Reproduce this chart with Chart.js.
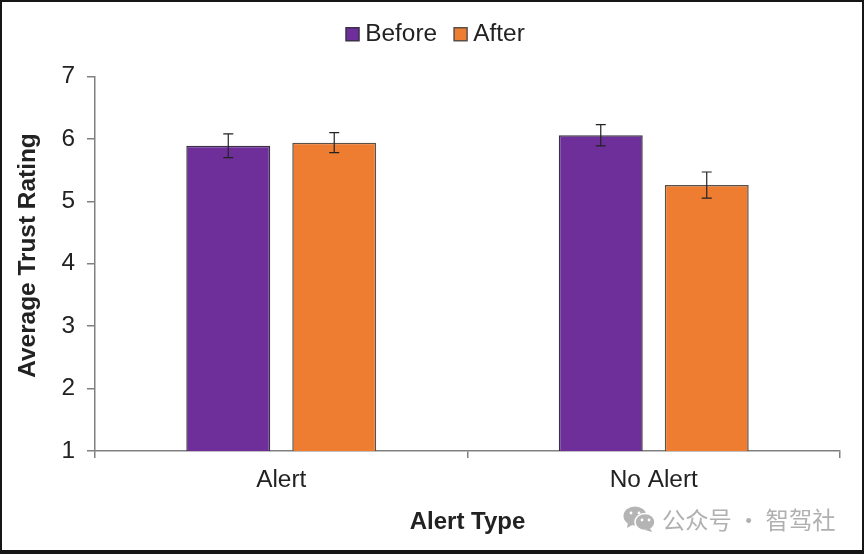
<!DOCTYPE html>
<html>
<head>
<meta charset="utf-8">
<script src="https://cdn.jsdelivr.net/npm/chart.js@4"></script>
<style>
html,body{margin:0;padding:0;background:#fff;overflow:hidden}
#wrap{position:absolute;left:0;top:0;width:864px;height:554px}
canvas{display:block;filter:blur(0.45px)}
</style>
</head>
<body>
<div id="wrap"><canvas id="c" width="864" height="554"></canvas></div>
<script>
const categories = ["Alert", "No Alert"];
const beforeValues = [5.89, 6.06];
const afterValues = [5.94, 5.26];
const beforeLow = [5.70, 5.89];
const beforeHigh = [6.08, 6.23];
const afterLow = [5.78, 5.05];
const afterHigh = [6.10, 5.47];
const seriesNames = ["Before", "After"];
const axisTitleY = "Average Trust Rating";
const axisTitleX = "Alert Type";
const watermark = "公众号 · 智驾社";
const errorBands = [[beforeLow, beforeHigh], [afterLow, afterHigh]];

const FONT = '"Liberation Sans", Arial, sans-serif';
const TEXT = '#222222';
const AXIS = '#808080';

const framePlugin = {
  id: 'frame',
  afterInit(chart) {
    const fit = chart.legend.fit;
    chart.legend.fit = function () { fit.call(this); this.height = 76.5; };
  },
  afterLayout(chart) {
    chart.legend.left += 18.4;
    chart.legend.right += 18.4;
    chart.legend.top -= 1;
  },
  beforeDraw(chart) {
    const c = chart.ctx;
    c.save();
    c.fillStyle = '#161616';
    c.fillRect(0, 0, 864, 554);
    c.fillStyle = '#ffffff';
    c.fillRect(2, 2, 860, 548);
    c.restore();
  }
};

const errorPlugin = {
  id: 'errorBars',
  afterDatasetsDraw(chart) {
    const c = chart.ctx, y = chart.scales.y;
    c.save();
    c.strokeStyle = '#222222';
    c.lineWidth = 1.2;
    errorBands.forEach((band, di) => {
      const meta = chart.getDatasetMeta(di);
      meta.data.forEach((bar, i) => {
        const lo = y.getPixelForValue(band[0][i]);
        const hi = y.getPixelForValue(band[1][i]);
        c.beginPath();
        c.moveTo(bar.x, lo); c.lineTo(bar.x, hi);
        c.moveTo(bar.x - 5, lo); c.lineTo(bar.x + 5, lo);
        c.moveTo(bar.x - 5, hi); c.lineTo(bar.x + 5, hi);
        c.stroke();
      });
    });
    c.restore();
  }
};

const yTitlePlugin = {
  id: 'yTitle',
  afterDraw(chart) {
    const c = chart.ctx;
    c.save();
    c.translate(28, 255.5);
    c.rotate(-Math.PI / 2);
    c.fillStyle = TEXT;
    c.font = 'bold 24.4px ' + FONT;
    c.textAlign = 'center';
    c.textBaseline = 'middle';
    c.fillText(axisTitleY, 0, 0);
    c.restore();
  }
};

const watermarkPlugin = {
  id: 'watermark',
  afterDraw(chart) {
    const c = chart.ctx;
    c.save();
    c.fillStyle = '#b4b4b4';
    c.beginPath(); c.ellipse(635, 516, 11.5, 9.5, 0, 0, Math.PI * 2); c.fill();
    c.beginPath(); c.moveTo(628, 522); c.lineTo(627, 528); c.lineTo(634, 524); c.fill();
    c.strokeStyle = '#ffffff'; c.lineWidth = 1.5;
    c.fillStyle = '#b4b4b4';
    c.beginPath(); c.ellipse(645, 522, 10, 8.5, 0, 0, Math.PI * 2); c.fill(); c.stroke();
    c.beginPath(); c.moveTo(650, 528); c.lineTo(652, 532); c.lineTo(645, 530); c.fill();
    c.fillStyle = '#ffffff';
    [[631, 513], [639, 513], [642, 520], [649, 520]].forEach(p => {
      c.beginPath(); c.arc(p[0], p[1], 1.4, 0, Math.PI * 2); c.fill();
    });
    c.fillStyle = '#b0b0b0';
    c.font = '23.3px "Noto Sans CJK SC"';
    c.textAlign = 'left';
    c.textBaseline = 'middle';
    c.fillText(watermark, 662, 520);
    c.restore();
  }
};

new Chart(document.getElementById('c'), {
  type: 'bar',
  data: {
    labels: categories,
    datasets: [
      { label: seriesNames[0], data: beforeValues, backgroundColor: '#6f2f9a', borderColor: '#3c3048', borderWidth: 1.5 },
      { label: seriesNames[1], data: afterValues, backgroundColor: '#ee7d31', borderColor: '#5a5048', borderWidth: 1.5 }
    ]
  },
  options: {
    responsive: false,
    animation: false,
    devicePixelRatio: 1,
    categoryPercentage: 0.569,
    barPercentage: 0.792,
    layout: { padding: { left: 0, right: 24, top: 0, bottom: 0 } },
    plugins: {
      tooltip: { enabled: false },
      title: { display: false },
      legend: {
        display: true,
        position: 'top',
        align: 'center',
        labels: {
          usePointStyle: true, pointStyle: 'rect',
          boxWidth: 1, boxHeight: 13, padding: 23,
          color: TEXT,
          font: { family: FONT, size: 24.4 }
        }
      }
    },
    scales: {
      x: {
        offset: true,
        afterFit(s) { s.height = 103; },
        border: { color: AXIS, width: 1.5 },
        grid: { offset: true, drawOnChartArea: false, drawTicks: true, tickLength: 7, color: AXIS, lineWidth: 1.5 },
        ticks: { color: TEXT, font: { family: FONT, size: 24.4 }, padding: 8 },
        title: { display: true, text: axisTitleX, color: TEXT, font: { family: FONT, size: 24, weight: 'bold' }, padding: { top: 8, bottom: 17 } }
      },
      y: {
        min: 1, max: 7,
        afterFit(s) { s.width = 95; },
        border: { color: AXIS, width: 1.5 },
        grid: { drawOnChartArea: false, drawTicks: true, tickLength: 8, color: AXIS, lineWidth: 1.5 },
        ticks: { stepSize: 1, color: TEXT, font: { family: FONT, size: 24.4 }, padding: 12 }
      }
    }
  },
  plugins: [framePlugin, errorPlugin, yTitlePlugin, watermarkPlugin]
});
</script>
</body>
</html>
